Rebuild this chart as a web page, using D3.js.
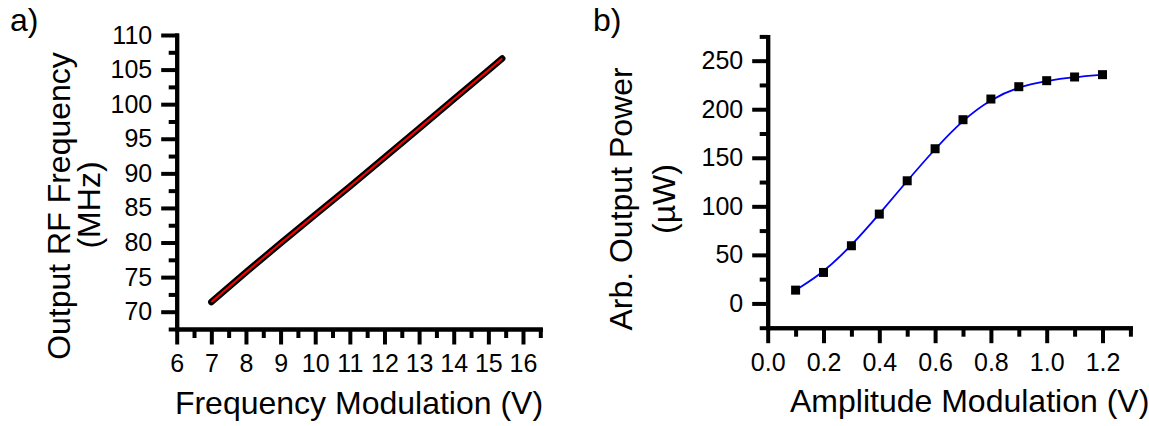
<!DOCTYPE html>
<meta charset="utf-8">
<style>
  body { margin: 0; background: #fff; }
  text { font-family: "Liberation Sans", Arial, sans-serif; fill: #000; }
</style>
<svg id="mysvg" width="1149" height="426"></svg>
<script src="https://cdnjs.cloudflare.com/ajax/libs/d3/7.8.5/d3.min.js"></script>
<script>

// panel a: VCO tuning
var freqV   = [7.0, 8.0, 9.0, 10.0, 11.0, 12.0, 13.0, 14.0, 15.0, 15.4];
var freqMHz = [71.4, 75.7, 79.9, 84.0, 88.1, 92.3, 96.5, 100.7, 104.9, 106.6];

// panel b: amplitude modulation vs power
var ampV    = [0.1, 0.2, 0.3, 0.4, 0.5, 0.6, 0.7, 0.8, 0.9, 1.0, 1.1, 1.2];
var powerUW = [13.7, 31.9, 59.4, 92.0, 126.3, 159.3, 189.2, 210.5, 223.2, 229.4, 233.2, 235.6];

// tick labels
var freqXTicks  = [6, 7, 8, 9, 10, 11, 12, 13, 14, 15, 16];
var freqYTicks  = [70, 75, 80, 85, 90, 95, 100, 105, 110];
var ampXTicks   = [0.0, 0.2, 0.4, 0.6, 0.8, 1.0, 1.2];
var powerYTicks = [0, 50, 100, 150, 200, 250];

var svg = d3.select("#mysvg");

var xA = d3.scaleLinear().domain([6, 16.5]).range([176.7, 540.3]);
var yA = d3.scaleLinear().domain([67.5, 110]).range([329, 35]);

var xB = d3.scaleLinear().domain([0, 1.3]).range([767.7, 1130.4]);
var yB = d3.scaleLinear().domain([-25, 275]).range([327.7, 36.4]);

function minorTicks(scale, step, majors) {
	var d = scale.domain(), out = [];
	for (var v = d[0]; v <= d[1] + 1e-9; v += step) {
		var r = Math.round(v * 1000) / 1000;
		if (!majors.some(function(m){ return Math.abs(m - r) < 1e-6; })) out.push(r);
	}
	return out;
}

function drawAxes(g, x, y, xt, yt, xMinorStep, yMinorStep, xfmt, yfmt) {
	var x0 = x.range()[0], y0 = y.range()[0];

	// minor ticks
	g.append("g").attr("transform", "translate(0," + y0 + ")")
		.call(d3.axisBottom(x).tickValues(minorTicks(x, xMinorStep, xt)).tickSize(9).tickSizeOuter(0).tickFormat(""))
		.call(styleAxis);
	g.append("g").attr("transform", "translate(" + x0 + ",0)")
		.call(d3.axisLeft(y).tickValues(minorTicks(y, yMinorStep, yt)).tickSize(8).tickSizeOuter(0).tickFormat(""))
		.call(styleAxis);

	// major ticks + labels
	g.append("g").attr("transform", "translate(0," + y0 + ")")
		.call(d3.axisBottom(x).tickValues(xt).tickSize(15.5).tickPadding(10).tickSizeOuter(0).tickFormat(xfmt))
		.call(styleAxis);
	g.append("g").attr("transform", "translate(" + x0 + ",0)")
		.call(d3.axisLeft(y).tickValues(yt).tickSize(15.5).tickPadding(9).tickSizeOuter(0).tickFormat(yfmt))
		.call(styleAxis);
}

function styleAxis(sel) {
	sel.selectAll(".domain").attr("stroke", "#000").attr("stroke-width", 4).attr("stroke-linecap", "square");
	sel.selectAll(".tick line").attr("stroke", "#000").attr("stroke-width", 4);
	sel.selectAll(".tick text").attr("font-size", 25).attr("fill", "#000");
}

// ---- panel a ----
var gA = svg.append("g");
drawAxes(gA, xA, yA, freqXTicks, freqYTicks, 0.5, 2.5, d3.format("d"), d3.format("d"));

var lineA = d3.line()
	.x(function(d, i){ return xA(freqV[i]); })
	.y(function(d){ return yA(d); });

gA.append("path").datum(freqMHz)
	.attr("d", lineA)
	.attr("fill", "none")
	.attr("stroke", "#000")
	.attr("stroke-width", 6.5)
	.attr("stroke-linecap", "round")
	.attr("stroke-linejoin", "round");
gA.append("path").datum(freqMHz)
	.attr("d", lineA)
	.attr("fill", "none")
	.attr("stroke", "#ff0000")
	.attr("stroke-width", 2);

// ---- panel b ----
var gB = svg.append("g");
drawAxes(gB, xB, yB, ampXTicks, powerYTicks, 0.1, 25, d3.format(".1f"), d3.format("d"));

var lineB = d3.line()
	.curve(d3.curveBasis)
	.x(function(d, i){ return xB(ampV[i]); })
	.y(function(d){ return yB(d); });

gB.append("path").datum(powerUW)
	.attr("d", lineB)
	.attr("fill", "none")
	.attr("stroke", "#0000ff")
	.attr("stroke-width", 1.8);

gB.selectAll("rect.pt")
	.data(powerUW)
	.enter().append("rect")
	.attr("class", "pt")
	.attr("x", function(d, i){ return xB(ampV[i]) - 4.5; })
	.attr("y", function(d){ return yB(d) - 4.5; })
	.attr("width", 9)
	.attr("height", 9)
	.attr("fill", "#000");

// ---- titles ----
svg.append("text").attr("x", 10).attr("y", 31).attr("font-size", 32).text("a)");
svg.append("text").attr("x", 593).attr("y", 31).attr("font-size", 32).text("b)");

svg.append("text").attr("x", 359).attr("y", 414).attr("font-size", 32)
	.attr("text-anchor", "middle").text("Frequency Modulation (V)");
svg.append("text").attr("x", 790).attr("y", 412).attr("font-size", 32)
	.text("Amplitude Modulation (V)");

function yTitle(x, y, s) {
	svg.append("text")
		.attr("transform", "translate(" + x + "," + y + ") rotate(-90)")
		.attr("text-anchor", "middle")
		.attr("font-size", 32)
		.text(s);
}
yTitle(69.5, 206, "Output RF Frequency");
yTitle(99.5, 205, "(MHz)");
yTitle(632, 199, "Arb. Output Power");
yTitle(675, 199, "(\u00b5W)");

</script>
